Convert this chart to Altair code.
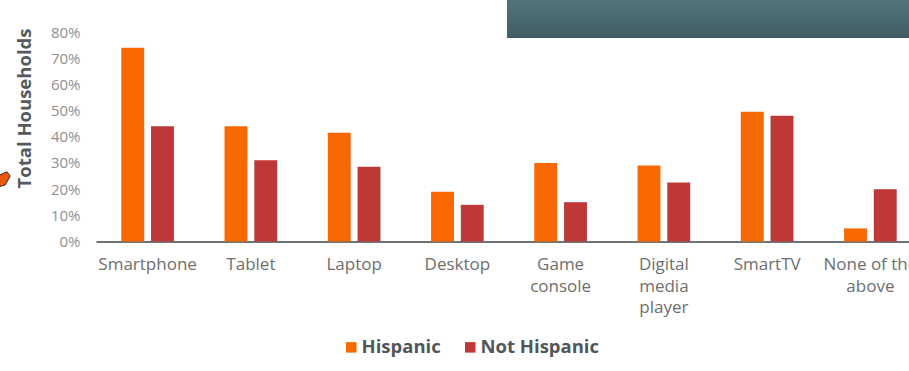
import altair as alt
import pandas as pd

categories = ["Smartphone", "Tablet", "Laptop", "Desktop", "Game|console",
              "Digital|media|player", "SmartTV", "None of the|above"]
hispanic = [74, 44, 41.5, 19, 30, 29, 49.5, 5]
not_hispanic = [44, 31, 28.5, 14, 15, 22.5, 48, 20]
series = ["Hispanic", "Not Hispanic"]
colors = ["#f76800", "#bd3836"]

rows = []
for cat, h, n in zip(categories, hispanic, not_hispanic):
    rows.append({"category": cat, "series": series[0], "share": h})
    rows.append({"category": cat, "series": series[1], "share": n})
table = pd.DataFrame(rows)

FONT = "Open Sans"

bars = alt.Chart(table).mark_bar().encode(
    x=alt.X(
        "category:N",
        sort=categories,
        scale=alt.Scale(paddingInner=0.49, paddingOuter=0.245),
        axis=alt.Axis(
            title=None,
            labelAngle=0,
            labelExpr="split(datum.label, '|')",
            labelFontSize=17,
            labelColor="#6e6e6e",
            labelFont=FONT,
            labelPadding=15,
            labelLineHeight=21.5,
            ticks=False,
            domainColor="#6d7377",
            domainWidth=2,
        ),
    ),
    xOffset=alt.XOffset("series:N", sort=series,
                        scale=alt.Scale(paddingInner=0.23, paddingOuter=0)),
    y=alt.Y(
        "share:Q",
        scale=alt.Scale(domain=[0, 80]),
        axis=alt.Axis(
            title="Total Households",
            titleFont=FONT,
            titleFontSize=18.5,
            titleFontWeight="bold",
            titleColor="#555a5e",
            titleX=-62,
            titleY=76,
            values=list(range(0, 90, 10)),
            labelExpr="datum.value + '%'",
            labelFontSize=15,
            labelFont=FONT,
            labelColor="#8f8f8f",
            labelPadding=16,
            ticks=False,
            domain=False,
            grid=False,
        ),
    ),
    color=alt.Color(
        "series:N",
        sort=series,
        scale=alt.Scale(domain=series, range=colors),
        legend=alt.Legend(
            title=None,
            orient="none",
            direction="horizontal",
            legendX=246,
            legendY=306,
            symbolType="square",
            symbolSize=110,
            symbolStrokeWidth=0,
            labelFont=FONT,
            labelFontSize=18.5,
            labelFontWeight="bold",
            labelColor="#50565a",
            labelOffset=1,
            columnPadding=20,
        ),
    ),
)

# Teal banner across the top right of the slide
banner = alt.Chart(pd.DataFrame({"k": [0]})).mark_rect(
    color=alt.Gradient(
        gradient="linear", x1=0, y1=0, x2=0, y2=1,
        stops=[alt.GradientStop(color="#50747a", offset=0),
               alt.GradientStop(color="#425c66", offset=1)],
    )
).encode(x=alt.value(411), x2=alt.value(826), y=alt.value(-32), y2=alt.value(6))

# Small slide bullet peeking in from the left edge
bullet = alt.Chart(pd.DataFrame({"k": [0]})).mark_point(
    shape="M -1 -0.3 L 0.6 -1 L 1 -0.5 L 0.4 0.6 L -1 1 Z",
    filled=True, fill="#e8590f", stroke="#3a2a20", strokeWidth=1, size=270, opacity=1,
).encode(x=alt.value(-94), y=alt.value(148))

chart = alt.layer(banner, bullet, bars).properties(
    width=826,
    height=209.5,
    padding={"left": 96, "top": 32, "right": -13, "bottom": 129},
    autosize=alt.AutoSizeParams(type="none"),
    background="white",
).configure_view(stroke=None)

chart.save("out.html", embed_options={"renderer": "svg", "actions": False})
